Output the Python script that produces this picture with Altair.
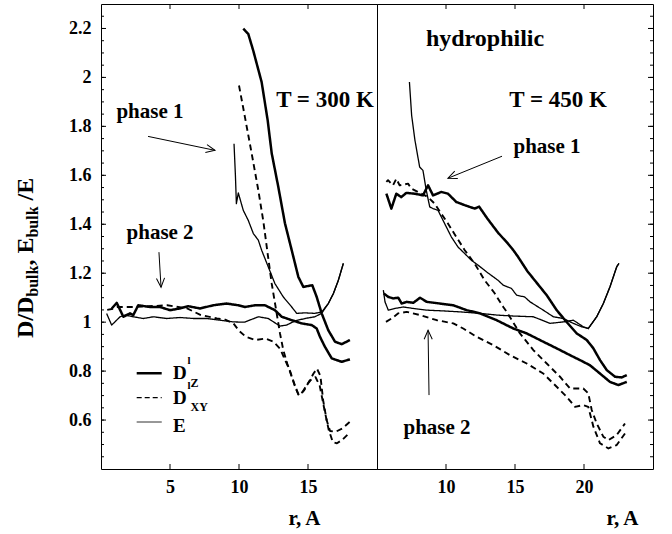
import altair as alt
import pandas as pd

FONT = "Liberation Serif"

# ---------------- T = 300 K ----------------
r300_p1_dz = [10.31, 10.67, 11.03, 11.64, 12.08, 12.37, 12.85, 13.33, 13.82, 14.30, 14.66, 15.31, 15.63, 15.99, 16.47, 16.96, 17.44, 18.04]
d300_p1_dz = [2.199, 2.178, 2.110, 1.981, 1.824, 1.690, 1.552, 1.404, 1.294, 1.185, 1.144, 1.151, 1.103, 1.036, 0.967, 0.920, 0.910, 0.927]
r300_p1_dxy = [10.0, 10.43, 10.92, 11.4, 11.77, 12.1, 12.37, 12.73, 12.97, 13.21, 13.5, 13.8, 14.1, 14.35, 14.7, 15.1, 15.4, 15.65, 15.9, 16.1, 16.35, 16.6, 17.0, 17.5, 18.04]
d300_p1_dxy = [1.967, 1.838, 1.689, 1.539, 1.41, 1.27, 1.158, 1.036, 0.954, 0.886, 0.83, 0.78, 0.73, 0.70, 0.72, 0.76, 0.79, 0.81, 0.78, 0.68, 0.60, 0.555, 0.552, 0.566, 0.593]
r300_p1_e = [9.64, 9.74, 9.81, 9.95, 10.31, 10.67, 11.04, 11.4, 11.64, 12.12, 12.6, 13.21, 13.82, 14.18, 14.78, 15.5, 16.0, 16.47, 16.84, 17.2, 17.56]
d300_p1_e = [1.729, 1.60, 1.484, 1.528, 1.457, 1.416, 1.362, 1.335, 1.294, 1.226, 1.158, 1.103, 1.062, 1.036, 1.038, 1.036, 1.042, 1.076, 1.117, 1.171, 1.24]

r300_p2_dz = [0.78, 1.14, 1.62, 2.1, 2.34, 2.7, 3.55, 4.27, 5.0, 5.72, 6.33, 7.17, 8.14, 9.1, 9.95, 10.43, 11.16, 11.88, 12.6, 13.1, 13.82, 14.54, 15.27, 15.63, 15.87, 16.23, 16.72, 17.44, 18.04]
d300_p2_dz = [1.056, 1.079, 1.022, 1.036, 1.029, 1.069, 1.062, 1.062, 1.049, 1.056, 1.065, 1.056, 1.069, 1.076, 1.069, 1.062, 1.069, 1.069, 1.049, 1.022, 1.008, 0.995, 0.988, 0.974, 0.94, 0.899, 0.852, 0.838, 0.848]
r300_p2_dxy = [0.45, 0.9, 1.2, 2.3, 3.5, 4.8, 6.2, 7.2, 8.4, 9.0, 9.6, 10.0, 10.5, 11.2, 11.9, 12.5, 13.0, 13.3, 13.7, 14.0, 14.3, 14.6, 15.0, 15.3, 15.55, 15.85, 16.2, 16.5, 16.8, 17.1, 17.5, 18.04]
d300_p2_dxy = [1.05, 1.055, 1.062, 1.062, 1.065, 1.069, 1.057, 1.03, 1.015, 1.01, 0.995, 0.965, 0.94, 0.927, 0.933, 0.92, 0.89, 0.85, 0.80, 0.75, 0.705, 0.715, 0.75, 0.77, 0.775, 0.74, 0.64, 0.56, 0.51, 0.505, 0.52, 0.55]
r300_p2_e = [0.41, 0.77, 1.01, 1.38, 1.74, 2.34, 3.07, 3.79, 4.76, 5.72, 6.69, 7.66, 8.62, 9.59, 10.4, 11.4, 12.12, 12.97, 13.45, 14.06, 14.78, 15.5, 15.99, 16.47, 16.84, 17.2, 17.56]
d300_p2_e = [1.035, 0.988, 1.001, 1.022, 1.029, 1.022, 1.015, 1.022, 1.015, 1.019, 1.015, 1.015, 1.008, 1.001, 1.0, 1.022, 1.015, 0.984, 0.988, 1.005, 1.015, 1.022, 1.036, 1.076, 1.117, 1.171, 1.24]

# ---------------- T = 450 K ----------------
r450_p1_dz = [5.68, 6.04, 6.4, 6.76, 7.12, 7.73, 8.33, 8.7, 9.06, 9.66, 10.14, 10.75, 11.36, 12.08, 12.4, 13.0, 13.78, 14.49, 14.88, 15.22, 15.9, 17.3, 18.02, 18.75, 19.47, 20.2, 20.68, 21.16, 21.65, 22.25, 22.73, 23.1]
d450_p1_dz = [1.525, 1.464, 1.525, 1.511, 1.528, 1.525, 1.518, 1.559, 1.518, 1.532, 1.525, 1.491, 1.478, 1.464, 1.472, 1.423, 1.365, 1.321, 1.294, 1.267, 1.208, 1.11, 1.049, 1.0, 0.954, 0.927, 0.893, 0.845, 0.804, 0.777, 0.774, 0.784]
r450_p1_dxy = [5.68, 5.8, 6.16, 6.4, 6.64, 7.25, 7.49, 8.22, 8.7, 9.18, 9.66, 10.14, 10.75, 11.36, 12.08, 12.8, 13.5, 14.15, 14.4, 15.36, 16.33, 17.3, 18.26, 18.99, 19.95, 20.31, 20.56, 20.92, 21.4, 21.77, 22.37, 22.97]
d450_p1_dxy = [1.573, 1.58, 1.559, 1.586, 1.559, 1.566, 1.546, 1.525, 1.511, 1.484, 1.443, 1.403, 1.348, 1.294, 1.239, 1.171, 1.12, 1.062, 1.042, 0.954, 0.886, 0.831, 0.777, 0.729, 0.729, 0.709, 0.641, 0.586, 0.532, 0.518, 0.539, 0.586]
r450_p1_e = [7.35, 7.51, 7.75, 8.09, 8.33, 8.57, 8.82, 9.06, 9.42, 9.9, 10.39, 10.87, 11.36, 11.84, 12.32, 12.95, 13.77, 14.15, 14.74, 15.12, 15.7, 16.09, 17.05, 17.78, 18.5, 19.23, 19.83, 20.31, 20.92, 21.4, 21.88, 22.37, 22.53]
d450_p1_e = [1.981, 1.845, 1.743, 1.634, 1.62, 1.539, 1.471, 1.464, 1.457, 1.403, 1.348, 1.307, 1.28, 1.253, 1.233, 1.205, 1.171, 1.151, 1.138, 1.11, 1.103, 1.083, 1.049, 1.022, 1.015, 0.995, 0.981, 0.974, 1.022, 1.076, 1.144, 1.226, 1.24]

r450_p2_dz = [5.5, 5.82, 6.18, 6.54, 6.79, 7.15, 7.63, 8.12, 8.6, 9.57, 10.53, 11.5, 12.46, 13.67, 14.88, 15.85, 17.05, 18.02, 18.99, 19.71, 20.43, 21.16, 21.88, 22.49, 23.1]
d450_p2_dz = [1.117, 1.103, 1.097, 1.1, 1.076, 1.083, 1.079, 1.1, 1.083, 1.076, 1.069, 1.049, 1.036, 1.008, 0.974, 0.954, 0.92, 0.893, 0.865, 0.845, 0.824, 0.79, 0.756, 0.743, 0.756]
r450_p2_dxy = [5.65, 6.06, 6.54, 7.15, 8.12, 9.33, 10.53, 11.25, 12.22, 13.43, 14.64, 15.85, 17.05, 18.02, 18.75, 19.35, 19.95, 20.31, 20.68, 21.16, 21.77, 22.37, 22.97]
d450_p2_dxy = [1.001, 1.015, 1.036, 1.042, 1.029, 1.008, 0.995, 0.974, 0.94, 0.906, 0.865, 0.831, 0.79, 0.736, 0.695, 0.654, 0.661, 0.654, 0.573, 0.505, 0.484, 0.498, 0.545]
r450_p2_e = [5.46, 5.58, 5.82, 6.3, 6.91, 7.63, 8.6, 9.8, 11.01, 12.46, 13.67, 14.88, 16.33, 17.54, 18.5, 19.23, 19.95, 20.31, 20.92, 21.4, 21.88, 22.37, 22.53]
d450_p2_e = [1.131, 1.083, 1.049, 1.056, 1.062, 1.056, 1.049, 1.046, 1.042, 1.036, 1.029, 1.025, 1.022, 0.995, 1.001, 1.008, 0.981, 0.974, 1.022, 1.076, 1.144, 1.226, 1.24]

# axis ticks
Y_DOMAIN = [0.4, 2.3]
Y_MAJOR = [0.6, 0.8, 1.0, 1.2, 1.4, 1.6, 1.8, 2.0, 2.2]
Y_MINOR = [round(0.45 + 0.05 * k, 2) for k in range(37)]
X300_TICKS = [5, 10, 15]
X450_TICKS = [10, 15, 20]

W, H = 276, 465
SERIES = ["Dz", "Dxy", "E"]
WIDTHS = [2.5, 1.3, 0.9]
DASHES = [[1, 0], [6, 4], [1, 0]]


def curves(items):
    rows = []
    for name, series, rs, vs in items:
        for i, (r, v) in enumerate(zip(rs, vs)):
            rows.append({"curve": name, "series": series, "i": i, "r": r, "v": v})
    return pd.DataFrame(rows)


df300 = curves([
    ("p1_dz", "Dz", r300_p1_dz, d300_p1_dz),
    ("p1_dxy", "Dxy", r300_p1_dxy, d300_p1_dxy),
    ("p1_e", "E", r300_p1_e, d300_p1_e),
    ("p2_dz", "Dz", r300_p2_dz, d300_p2_dz),
    ("p2_dxy", "Dxy", r300_p2_dxy, d300_p2_dxy),
    ("p2_e", "E", r300_p2_e, d300_p2_e),
])
df450 = curves([
    ("p1_dz", "Dz", r450_p1_dz, d450_p1_dz),
    ("p1_dxy", "Dxy", r450_p1_dxy, d450_p1_dxy),
    ("p1_e", "E", r450_p1_e, d450_p1_e),
    ("p2_dz", "Dz", r450_p2_dz, d450_p2_dz),
    ("p2_dxy", "Dxy", r450_p2_dxy, d450_p2_dxy),
    ("p2_e", "E", r450_p2_e, d450_p2_e),
])

# annotation texts and arrows (data coordinates of each panel)
texts300 = [("T = 300 K", 16.23, 1.906, 23), ("phase 1", 3.55, 1.857, 21), ("phase 2", 4.28, 1.363, 21)]
texts450 = [("hydrophilic", 12.83, 2.155, 24), ("T = 450 K", 18.12, 1.906, 23),
            ("phase 1", 17.32, 1.714, 21), ("phase 2", 9.35, 0.567, 21)]
arrows300 = [(3.41, 1.759, 8.26, 1.702, 11.8), (4.20, 1.286, 4.35, 1.143, 86.7)]
arrows450 = [(14.06, 1.678, 10.14, 1.588, 157.8), (8.77, 0.702, 8.70, 0.967, 269.1)]

ONE = pd.DataFrame({"k": [0]})


def panel(df, x_domain, x_ticks, title_x, texts, arrows, left):
    xs = alt.Scale(domain=x_domain, nice=False, zero=False)
    ys = alt.Scale(domain=Y_DOMAIN, nice=False, zero=False)
    xaxis = alt.Axis(values=x_ticks, title="r, A", titleX=title_x, titleY=49,
                     titleAlign="center", titleBaseline="middle")
    yaxis = alt.Axis(values=Y_MAJOR, format="~g", title=None) if left else None

    def X(f):
        return alt.X(f, type="quantitative", scale=xs, axis=xaxis)

    def Y(f):
        return alt.Y(f, type="quantitative", scale=ys, axis=yaxis)

    layers = []
    lines = alt.Chart(df).mark_line(color="black", strokeJoin="round").encode(
        x=X("r"), y=Y("v"), detail="curve:N", order=alt.Order("i:Q"),
        strokeWidth=alt.StrokeWidth("series:N", scale=alt.Scale(domain=SERIES, range=WIDTHS), legend=None),
        strokeDash=alt.StrokeDash("series:N", scale=alt.Scale(domain=SERIES, range=DASHES), legend=None),
    )
    layers.append(lines)

    # inward tick marks on the frame
    xt = pd.DataFrame({"r": x_ticks})
    layers.append(alt.Chart(xt).mark_rule(color="black", strokeWidth=1).encode(
        x=X("r"), y=alt.value(0), y2=alt.value(5)))
    layers.append(alt.Chart(xt).mark_rule(color="black", strokeWidth=1).encode(
        x=X("r"), y=alt.value(H), y2=alt.value(H - 5)))
    edge = 0 if left else W
    sgn = 1 if left else -1
    layers.append(alt.Chart(pd.DataFrame({"v": Y_MINOR})).mark_rule(color="black", strokeWidth=1).encode(
        y=Y("v"), x=alt.value(edge), x2=alt.value(edge + sgn * 3)))
    layers.append(alt.Chart(pd.DataFrame({"v": Y_MAJOR})).mark_rule(color="black", strokeWidth=1).encode(
        y=Y("v"), x=alt.value(edge), x2=alt.value(edge + sgn * 5)))

    # labels
    for t, r, v, fs in texts:
        layers.append(alt.Chart(pd.DataFrame({"t": [t], "r": [r], "v": [v]})).mark_text(
            font=FONT, fontWeight="bold", fontSize=fs, color="black", align="center", baseline="middle"
        ).encode(x=X("r"), y=Y("v"), text="t:N"))

    # arrows
    adf = pd.DataFrame([{"r": a[0], "v": a[1], "r2": a[2], "v2": a[3]} for a in arrows])
    layers.append(alt.Chart(adf).mark_rule(color="black", strokeWidth=1).encode(
        x=X("r"), y=Y("v"), x2="r2:Q", y2="v2:Q"))
    hdf = pd.DataFrame([{"r": a[2], "v": a[3], "ang": a[4]} for a in arrows])
    layers.append(alt.Chart(hdf).mark_point(
        shape="M-1,-0.45L0,0L-1,0.45", filled=False, color="black", strokeWidth=1, size=324, opacity=1
    ).encode(x=X("r"), y=Y("v"), angle=alt.Angle("ang:Q", scale=None)))

    if left:
        # legend
        for k, (s, ly) in enumerate(zip(SERIES, [369.3, 393.7, 418.0])):
            layers.append(alt.Chart(ONE).mark_rule(
                color="black", strokeWidth=WIDTHS[k], strokeDash=DASHES[k] if k != 1 else [5, 3]
            ).encode(x=alt.value(35.7), x2=alt.value(60.7), y=alt.value(ly)))
        leg = [("D", 72, 369, 19), ("l", 86.5, 357, 11), ("Z", 89.5, 379, 12),
               ("D", 72, 394, 19), ("l", 86.5, 382, 11), ("XY", 89.5, 403, 12),
               ("E", 72, 421.5, 19)]
        for t, lx, ly, fs in leg:
            layers.append(alt.Chart(ONE).mark_text(
                text=t, font=FONT, fontWeight="bold", fontSize=fs, color="black", align="left", baseline="middle"
            ).encode(x=alt.value(lx), y=alt.value(ly)))
        # rotated y-axis title with subscripts
        ytitle = [("D/D", 24, -68, 334), ("bulk", 16, -63, 292.7), (", E", 24, -68, 261.6),
                  ("bulk", 16, -63, 233.6), ("/E", 24, -68, 196.5)]
        for t, fs, tx, ty in ytitle:
            layers.append(alt.Chart(ONE).mark_text(
                text=t, font=FONT, fontWeight="bold", fontSize=fs, color="black",
                align="left", baseline="alphabetic", angle=270
            ).encode(x=alt.value(tx), y=alt.value(ty)))

    return alt.layer(*layers).properties(width=W, height=H)


left = panel(df300, [0, 20], X300_TICKS, 203, texts300, arrows300, True)
right = panel(df450, [5, 25], X450_TICKS, 245, texts450, arrows450, False)

chart = alt.hconcat(left, right, spacing=0, bounds="flush").properties(
    padding={"left": 13, "top": 3, "right": 5, "bottom": 5}, background="white"
).configure_view(stroke="black", strokeWidth=1).configure_axis(
    labelFont=FONT, labelFontWeight="bold", labelFontSize=18, labelColor="black",
    titleFont=FONT, titleFontWeight="bold", titleFontSize=21, titleColor="black",
    ticks=False, domain=False, grid=False
).configure_axisX(labelPadding=9).configure_axisY(labelPadding=10)

chart.save("out.html", embed_options={"renderer": "svg", "actions": False})
